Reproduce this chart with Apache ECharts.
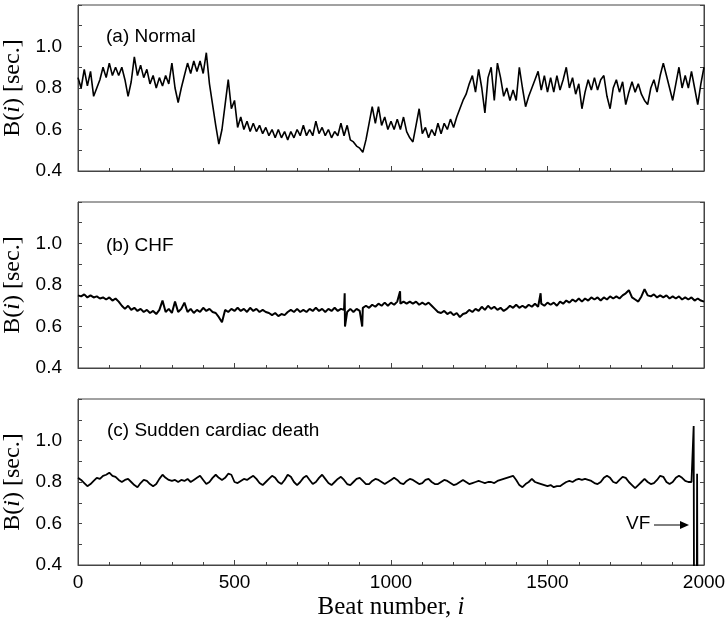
<!DOCTYPE html>
<html>
<head>
    <meta charset="utf-8">
    <title>Beat intervals</title>
    <script src="https://cdn.jsdelivr.net/npm/echarts@6/dist/echarts.min.js"></script>
    <style>
        html, body { margin: 0; padding: 0; background: #fff; }
        #main { width: 727px; height: 620px; }
    </style>
</head>
<body>
<div id="main"></div>
<script type="text/javascript">
    // one value every 10 beats
    var beatStep = 10;

    var normalB = [
        0.85,0.80,0.89,0.81,0.88,0.76,0.80,0.84,0.90,0.85,
        0.92,0.86,0.90,0.86,0.90,0.84,0.76,0.83,0.95,0.86,
        0.91,0.85,0.89,0.82,0.86,0.80,0.85,0.81,0.86,0.82,
        0.92,0.80,0.73,0.80,0.86,0.92,0.87,0.93,0.88,0.93,
        0.87,0.97,0.82,0.72,0.62,0.53,0.60,0.72,0.84,0.70,
        0.74,0.61,0.66,0.60,0.64,0.59,0.63,0.59,0.62,0.58,
        0.61,0.57,0.60,0.56,0.60,0.56,0.59,0.55,0.59,0.56,
        0.60,0.57,0.62,0.57,0.60,0.57,0.64,0.58,0.61,0.57,
        0.60,0.56,0.59,0.57,0.63,0.57,0.62,0.55,0.54,0.52,
        0.51,0.49,0.55,0.63,0.71,0.63,0.71,0.62,0.66,0.60,
        0.64,0.60,0.65,0.60,0.66,0.59,0.56,0.54,0.62,0.70,
        0.58,0.61,0.56,0.60,0.57,0.63,0.58,0.63,0.60,0.65,
        0.61,0.66,0.70,0.74,0.77,0.82,0.86,0.78,0.89,0.80,
        0.68,0.85,0.90,0.74,0.92,0.85,0.76,0.80,0.74,0.79,
        0.74,0.90,0.80,0.71,0.76,0.80,0.84,0.88,0.79,0.86,
        0.78,0.85,0.78,0.86,0.79,0.84,0.90,0.80,0.85,0.77,
        0.82,0.70,0.78,0.84,0.79,0.85,0.79,0.84,0.86,0.76,
        0.70,0.80,0.84,0.78,0.83,0.72,0.78,0.83,0.78,0.82,
        0.77,0.74,0.72,0.80,0.84,0.78,0.86,0.92,0.86,0.80,
        0.74,0.82,0.90,0.80,0.86,0.80,0.88,0.80,0.72,0.82,
        0.90
    ];

    var chfB = [
        0.75,0.745,0.755,0.74,0.75,0.74,0.745,0.735,0.74,0.73,
        0.74,0.725,0.735,0.72,0.70,0.685,0.70,0.68,0.69,0.675,
        0.685,0.67,0.68,0.665,0.675,0.66,0.68,0.725,0.67,0.685,
        0.665,0.72,0.67,0.685,0.715,0.67,0.685,0.665,0.68,0.67,
        0.69,0.675,0.685,0.67,0.665,0.645,0.62,0.68,0.67,0.685,
        0.675,0.69,0.675,0.685,0.67,0.69,0.675,0.685,0.67,0.68,
        0.67,0.665,0.655,0.665,0.65,0.66,0.655,0.67,0.68,0.67,
        0.685,0.67,0.68,0.67,0.685,0.675,0.69,0.675,0.685,0.67,
        0.685,0.675,0.69,0.675,0.685,0.68,0.67,0.685,0.67,0.685,
        0.675,0.69,0.70,0.69,0.705,0.695,0.71,0.70,0.715,0.70,
        0.715,0.705,0.72,0.71,0.72,0.71,0.72,0.71,0.72,0.705,
        0.715,0.705,0.715,0.70,0.685,0.67,0.665,0.675,0.66,0.67,
        0.655,0.665,0.645,0.66,0.665,0.68,0.67,0.685,0.675,0.695,
        0.68,0.70,0.685,0.695,0.68,0.69,0.675,0.685,0.70,0.69,
        0.705,0.69,0.70,0.69,0.705,0.695,0.71,0.695,0.71,0.70,
        0.715,0.705,0.715,0.70,0.72,0.71,0.725,0.715,0.73,0.72,
        0.735,0.72,0.735,0.725,0.74,0.73,0.74,0.725,0.74,0.73,
        0.745,0.735,0.745,0.735,0.75,0.76,0.775,0.74,0.73,0.72,
        0.745,0.78,0.75,0.745,0.755,0.74,0.75,0.74,0.75,0.735,
        0.745,0.735,0.745,0.73,0.74,0.73,0.74,0.725,0.735,0.725,
        0.72
    ];
    // isolated single-beat spikes in the CHF record [beat, value]
    var chfSpikes = [[852, 0.76], [853, 0.60], [908, 0.60], [1029, 0.77], [1478, 0.76]];

    var scdB = [
        0.82,0.81,0.795,0.78,0.79,0.805,0.82,0.815,0.83,0.835,
        0.845,0.83,0.825,0.81,0.80,0.81,0.815,0.80,0.785,0.775,
        0.795,0.81,0.805,0.79,0.78,0.79,0.815,0.835,0.82,0.81,
        0.805,0.81,0.80,0.81,0.805,0.815,0.80,0.81,0.82,0.83,
        0.81,0.79,0.80,0.82,0.835,0.82,0.81,0.82,0.84,0.835,
        0.80,0.795,0.805,0.815,0.81,0.82,0.83,0.815,0.795,0.785,
        0.80,0.815,0.83,0.82,0.80,0.79,0.81,0.835,0.825,0.80,
        0.785,0.80,0.82,0.83,0.81,0.79,0.80,0.82,0.835,0.815,
        0.795,0.785,0.80,0.815,0.825,0.81,0.79,0.785,0.80,0.815,
        0.82,0.805,0.79,0.79,0.805,0.815,0.81,0.80,0.79,0.80,
        0.81,0.82,0.81,0.795,0.79,0.805,0.815,0.81,0.80,0.79,
        0.795,0.81,0.815,0.80,0.79,0.79,0.80,0.81,0.805,0.795,
        0.785,0.79,0.80,0.81,0.80,0.79,0.795,0.80,0.805,0.80,
        0.795,0.80,0.80,0.795,0.805,0.81,0.815,0.82,0.825,0.83,
        0.81,0.785,0.775,0.79,0.80,0.815,0.80,0.795,0.79,0.785,
        0.78,0.785,0.775,0.78,0.78,0.79,0.80,0.805,0.80,0.81,
        0.815,0.81,0.815,0.81,0.805,0.795,0.79,0.80,0.82,0.83,
        0.82,0.80,0.795,0.81,0.825,0.82,0.80,0.785,0.77,0.785,
        0.80,0.815,0.80,0.79,0.795,0.81,0.83,0.825,0.80,0.79,
        0.80,0.82,0.83,0.82,0.805,0.80,0.80
    ];
    // ventricular fibrillation at the end [beat, value]; drops below 0.4 are clipped
    var scdVF = [[1966, 0.80], [1967, 1.07], [1968, 0.30], [1977, 0.30], [1978, 0.84], [1979, 0.30]];

    var yTickLabels = ['0.4', '0.6', '0.8', '1.0'];
    var xTickLabels = ['0', '500', '1000', '1500', '2000'];
    var panelTitles = ['(a) Normal', '(b) CHF', '(c) Sudden cardiac death'];

    function toPairs(vals, extra) {
        var d = vals.map(function (v, i) { return [i * beatStep, v]; });
        return d.concat(extra || []).sort(function (a, b) { return a[0] - b[0]; });
    }

    var sans = 'Liberation Sans';
    var serif = 'Liberation Serif';
    var gridTops = [5, 202, 399];
    var gridH = 166;
    var lineWidths = [1.6, 2.0, 1.8];

    var grids = [], xAxes = [], yAxes = [], series = [];
    var datasets = [toPairs(normalB), toPairs(chfB, chfSpikes), toPairs(scdB, scdVF)];

    var nameRich = {
        r: { fontFamily: serif, fontSize: 24, color: '#000' },
        i: { fontFamily: serif, fontSize: 24, fontStyle: 'italic', color: '#000' }
    };

    for (var p = 0; p < 3; p++) {
        grids.push({ left: 78, right: 23, top: gridTops[p], height: gridH,
            outerBoundsMode: 'none', containLabel: false,
            show: true, borderColor: '#444', borderWidth: 1 });
        xAxes.push({
            type: 'value', gridIndex: p, min: 0, max: 2000, interval: 500,
            axisLine: { lineStyle: { color: '#444' } },
            axisTick: { inside: true, length: 5, lineStyle: { color: '#444' } },
            minorTick: { show: true, splitNumber: 5, length: 3, lineStyle: { color: '#444' } },
            splitLine: { show: false },
            axisLabel: {
                show: p === 2, margin: 8, color: '#000', fontFamily: sans, fontSize: 19,
                formatter: function (v) { return xTickLabels.indexOf(String(v)) >= 0 ? String(v) : ''; }
            },
            name: p === 2 ? '{r|Beat number, }{i|i}' : '',
            nameLocation: 'middle', nameGap: 30,
            nameTextStyle: { rich: {
                r: { fontFamily: serif, fontSize: 25, color: '#000' },
                i: { fontFamily: serif, fontSize: 25, fontStyle: 'italic', color: '#000' }
            } }
        });
        // left axis with labels
        yAxes.push({
            type: 'value', gridIndex: p, min: 0.4, max: 1.2, interval: 0.1,
            axisLine: { show: true, lineStyle: { color: '#444' } },
            axisTick: { inside: true, length: 4, lineStyle: { color: '#444' } },
            splitLine: { show: false },
            axisLabel: {
                margin: 16, color: '#000', fontFamily: sans, fontSize: 19,
                formatter: function (v) {
                    var s = v.toFixed(1);
                    return yTickLabels.indexOf(s) >= 0 ? s : '';
                }
            },
            name: '{r|B(}{i|i}{r|) [sec.]}',
            nameLocation: 'middle', nameRotate: 90, nameGap: 45,
            nameTextStyle: { rich: nameRich }
        });
        // right axis, ticks only
        yAxes.push({
            type: 'value', gridIndex: p, position: 'right', min: 0.4, max: 1.2, interval: 0.1,
            axisLine: { show: true, lineStyle: { color: '#444' } },
            axisTick: { inside: true, length: 4, lineStyle: { color: '#444' } },
            splitLine: { show: false },
            axisLabel: { show: false }
        });
        series.push({
            type: 'line', xAxisIndex: p, yAxisIndex: p * 2,
            data: datasets[p], showSymbol: false, symbol: 'none',
            lineStyle: { color: '#000', width: lineWidths[p] },
            animation: false
        });
    }

    var titlePos = [[106, 38], [106, 247], [107, 432]];
    var graphics = panelTitles.map(function (t, i) {
        return { type: 'text', left: titlePos[i][0], top: titlePos[i][1] - 11,
            style: { text: t, fill: '#000', font: '19px "' + sans + '"' } };
    });
    // VF label with arrow
    graphics.push({ type: 'text', left: 626, top: 514,
        style: { text: 'VF', fill: '#000', font: '19px "' + sans + '"' } });
    graphics.push({ type: 'line', shape: { x1: 654, y1: 525, x2: 681, y2: 525 },
        style: { stroke: '#000', lineWidth: 1 } });
    graphics.push({ type: 'polygon', shape: { points: [[680, 521], [689, 525], [680, 529]] },
        style: { fill: '#000' } });

    var myChart = echarts.init(document.getElementById('main'), null, { renderer: 'canvas' });
    myChart.setOption({
        backgroundColor: '#fff',
        animation: false,
        grid: grids,
        xAxis: xAxes,
        yAxis: yAxes,
        series: series,
        graphic: graphics
    });
</script>
</body>
</html>
